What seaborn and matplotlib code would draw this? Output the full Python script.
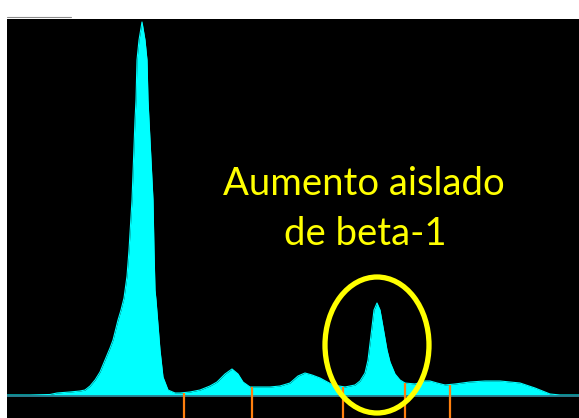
import matplotlib
matplotlib.use("Agg")
import matplotlib.pyplot as plt
from matplotlib.patches import Ellipse
from matplotlib.lines import Line2D
import numpy as np
import pandas as pd
import seaborn as sns

# Serum protein electrophoresis densitometry trace (arbitrary units)
mobility = [0, 23, 43, 50, 63, 73, 78, 83, 88, 93, 98, 103, 106, 111, 114, 117,
            120, 122, 125, 128, 129, 130, 132, 135, 138, 140, 141, 142, 146, 147,
            148, 149, 153, 156, 161, 168, 173, 183, 193, 203, 210, 218, 225, 231,
            236, 243, 263, 273, 283, 291, 298, 305, 313, 326, 338, 348, 353, 358,
            361, 365, 367, 370, 373, 376, 380, 383, 388, 393, 398, 408, 418, 423,
            430, 438, 448, 463, 478, 493, 503, 513, 528, 538, 543, 553, 572]
density = [1, 1, 1.5, 3, 4, 5, 6, 10, 16, 24, 36, 48, 56, 76, 86, 98,
           120, 146, 196, 276, 296, 336, 356, 374, 356, 336, 296, 276, 196, 146,
           106, 96, 46, 19, 6, 3, 3, 4, 6, 10, 14, 22, 27, 22,
           14, 9, 9, 10, 13, 20, 23, 21, 18, 11, 9, 11, 15, 23,
           36, 69, 86, 93, 86, 69, 46, 34, 22, 16, 13, 12, 15, 15,
           13, 11, 12, 14, 15, 15, 14, 13, 8, 4, 2, 1, 1]

# Fraction boundaries (albumin | alpha-1 | alpha-2 | beta-1 | beta-2 | gamma)
fraction_cuts = [177, 245, 336, 398, 443]

label_lines = ["Aumento aislado", "de beta-1"]

df = pd.DataFrame({"mobility": mobility, "density": density})

sns.set_theme(style="white")
plt.rcParams["font.family"] = ["Lato", "DejaVu Sans"]

fig = plt.figure(figsize=(5.79, 4.18), dpi=100, facecolor="white")
ax = fig.add_axes([7 / 579, 0, 572 / 579, (418 - 19) / 418])
ax.set_facecolor("black")

ax.fill_between(df["mobility"], 0, df["density"], color="#00ffff", lw=0, zorder=2)
sns.lineplot(data=df, x="mobility", y="density", ax=ax, color="#00ffff",
             lw=0.8, zorder=3, sort=False)

ax.axhline(0, color="#2b7a8c", lw=1.3, zorder=4)

tops = np.interp(fraction_cuts, mobility, density)
ax.vlines(fraction_cuts, -30, tops, color="#ff7f0e", lw=1.6, zorder=5)

ax.add_patch(Ellipse((370, 51), 104, 136, fill=False, edgecolor="#ffff00",
                     lw=3.8, zorder=6))

ax.text(357, 201, label_lines[0], color="#ffff00", fontsize=27.5,
        ha="center", va="baseline", zorder=7)
ax.text(358, 151, label_lines[1], color="#ffff00", fontsize=27.5,
        ha="center", va="baseline", zorder=7)

ax.set_xlim(0, 572)
ax.set_ylim(-22, 377)
ax.set_xlabel("")
ax.set_ylabel("")
ax.set_xticks([])
ax.set_yticks([])
for s in ax.spines.values():
    s.set_visible(False)

fig.add_artist(Line2D([7 / 579, 71 / 579], [1 - 17 / 418, 1 - 17 / 418],
                      color="#8a8a8a", lw=0.8))

fig.savefig("out.png", dpi=100, facecolor="white")
